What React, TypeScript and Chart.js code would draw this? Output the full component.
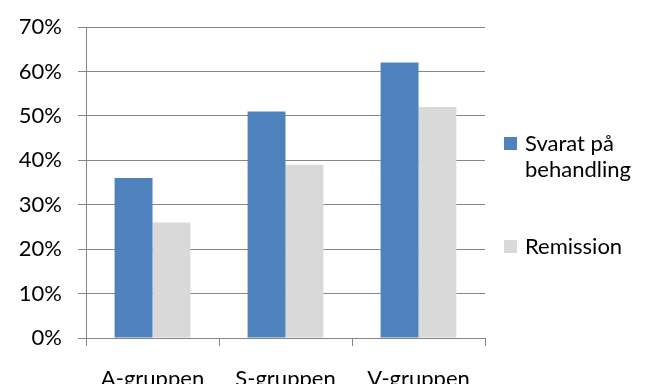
import React, { useEffect, useRef } from "react";
import { Chart, registerables } from "chart.js";

Chart.register(...registerables);

const categories = ["A-gruppen", "S-gruppen", "V-gruppen"];
const svaratValues = [36, 51, 62];
const remissionValues = [26, 39, 52];
const seriesNames = [["Svarat på", "behandling"], ["Remission"]];
const colors = ["#4F81BD", "#D9D9D9"];

const FONT = "Lato, 'Open Sans', sans-serif";
const FS = 22;

export default function App() {
  const ref = useRef<HTMLCanvasElement | null>(null);
  useEffect(() => {
    if (!ref.current) return;
    const chart = new Chart(ref.current, {
      type: "bar",
      data: {
        labels: categories,
        datasets: [
          { label: seriesNames[0].join(" "), data: svaratValues, backgroundColor: colors[0], categoryPercentage: 0.57, barPercentage: 1 },
          { label: seriesNames[1].join(" "), data: remissionValues, backgroundColor: colors[1], categoryPercentage: 0.57, barPercentage: 1 },
        ],
      },
      options: {
        animation: false,
        responsive: false,
        layout: { padding: { top: 19, right: 153, left: 0, bottom: 0 } },
        plugins: { legend: { display: false }, tooltip: { enabled: false } },
        scales: {
          x: {
            offset: true,
            grid: { offset: true, drawOnChartArea: false, drawTicks: true, tickLength: 8, color: "#868686" },
            border: { color: "#868686" },
            ticks: { color: "#000", font: { family: FONT, size: FS }, padding: 20, maxRotation: 0 },
            afterFit: (s: any) => { s.height = 46; },
          },
          y: {
            min: 0,
            max: 70,
            ticks: { stepSize: 10, color: "#000", font: { family: FONT, size: FS }, padding: 16, callback: (v: any) => v + "%" },
            grid: { color: "#868686", tickLength: 8 },
            border: { color: "#868686" },
            afterFit: (s: any) => { s.width = 78; s.paddingTop = 0; },
          },
        },
      },
    });
    return () => chart.destroy();
  }, []);

  const legendText: React.CSSProperties = { fontFamily: FONT, fontSize: FS, color: "#000", lineHeight: "26px" };
  return (
    <div style={{ position: "relative", width: 630, height: 376 }}>
      <canvas ref={ref} width={630} height={376} style={{ display: "block" }} />
      <div style={{ position: "absolute", left: 496, top: 122, display: "flex", alignItems: "flex-start" }}>
        <div style={{ width: 13, height: 13, background: colors[0], marginTop: 7, marginRight: 8 }} />
        <div style={legendText}>{seriesNames[0][0]}<br />{seriesNames[0][1]}</div>
      </div>
      <div style={{ position: "absolute", left: 496, top: 225, display: "flex", alignItems: "flex-start" }}>
        <div style={{ width: 13, height: 13, background: colors[1], marginTop: 7, marginRight: 8 }} />
        <div style={legendText}>{seriesNames[1][0]}</div>
      </div>
    </div>
  );
}
